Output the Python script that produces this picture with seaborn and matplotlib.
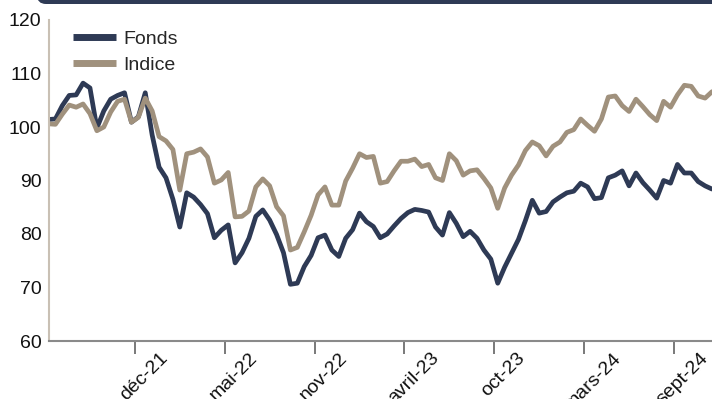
import numpy as np
import pandas as pd
import matplotlib
matplotlib.use("Agg")
import matplotlib.pyplot as plt
import matplotlib.transforms as mtransforms
from matplotlib.patches import FancyBboxPatch
import seaborn as sns

# Fortnightly observations (week number since launch) of both series, base 100
weeks = np.arange(0, 193, 2)

fonds = [
    101.4, 101.5, 104.0, 105.9, 106.0, 108.2, 107.3, 99.8, 103.0, 105.2,
    105.9, 106.4, 100.9, 101.9, 106.4, 98.5, 92.5, 90.5, 86.5, 81.3,
    87.7, 86.9, 85.5, 83.8, 79.3, 80.7, 81.7, 74.6, 76.5, 79.2,
    83.3, 84.5, 82.6, 79.9, 76.5, 70.6, 70.8, 73.9, 76.0, 79.3,
    79.8, 77.0, 75.8, 79.2, 80.8, 83.9, 82.3, 81.4, 79.3, 80.0,
    81.5, 82.9, 84.0, 84.6, 84.4, 84.1, 81.3, 79.8, 84.0, 82.0,
    79.5, 80.5, 79.2, 77.0, 75.3, 70.8, 73.8, 76.4, 79.0, 82.5,
    86.3, 83.9, 84.2, 86.0, 86.9, 87.7, 88.0, 89.5, 88.8, 86.6,
    86.8, 90.5, 91.0, 91.8, 89.0, 91.4, 89.6, 88.2, 86.7, 90.0,
    89.5, 93.0, 91.4, 91.4, 89.8, 89.0, 88.4,
]

indice = [
    100.6, 100.5, 102.4, 104.1, 103.7, 104.3, 102.5, 99.3, 100.0, 102.8,
    104.8, 105.2, 100.9, 101.8, 105.4, 103.0, 98.2, 97.4, 95.8, 88.2,
    95.0, 95.3, 95.9, 94.4, 89.5, 90.1, 91.5, 83.2, 83.3, 84.3,
    88.8, 90.3, 89.0, 85.1, 83.4, 77.0, 77.5, 80.4, 83.5, 87.3,
    88.8, 85.4, 85.4, 89.9, 92.3, 95.0, 94.3, 94.5, 89.5, 89.8,
    91.8, 93.6, 93.6, 94.0, 92.6, 93.0, 90.5, 90.0, 95.0, 93.7,
    91.0, 91.8, 92.0, 90.4, 88.6, 84.8, 88.6, 91.0, 92.9, 95.6,
    97.2, 96.5, 94.6, 96.4, 97.2, 99.0, 99.5, 101.5, 100.3, 99.2,
    101.5, 105.6, 105.8, 104.0, 102.9, 105.2, 103.8, 102.3, 101.2, 104.8,
    103.7, 106.0, 107.8, 107.6, 105.8, 105.4, 106.6,
]

tick_weeks = [25, 51, 77, 103, 129, 155, 181]
tick_labels = ["déc-21", "mai-22", "nov-22", "avril-23", "oct-23", "mars-24", "sept-24"]

series_names = ["Fonds", "Indice"]
colors = {"Fonds": "#2e3a55", "Indice": "#a0917d"}

df = pd.DataFrame({
    "semaine": np.concatenate([weeks, weeks]),
    "valeur": np.concatenate([fonds, indice]),
    "serie": [series_names[0]] * len(weeks) + [series_names[1]] * len(weeks),
})

sns.set_theme(style="white")
plt.rcParams["font.family"] = ["Liberation Sans", "DejaVu Sans"]

FS = 14
W, H, DPI = 712, 399, 100
fig = plt.figure(figsize=(W / DPI, H / DPI), dpi=DPI)
ax = fig.add_axes([48.5 / W, (H - 341) / H, (W - 48.5) / W, 321 / H])

sns.lineplot(data=df, x="semaine", y="valeur", hue="serie", hue_order=series_names,
             palette=colors, linewidth=3.4, ax=ax, legend=True)

ax.set_xlim(0, 192)
ax.set_ylim(60, 120)
ax.set_yticks(np.arange(60, 121, 10))
ax.set_xticks(tick_weeks)
ax.set_xticklabels(tick_labels)
ax.set_xlabel("")
ax.set_ylabel("")

for side in ["top", "right"]:
    ax.spines[side].set_visible(False)
ax.spines["left"].set_color("#c9c0b4")
ax.spines["left"].set_linewidth(1.5)
ax.spines["bottom"].set_color("#8a8a8a")
ax.spines["bottom"].set_linewidth(1.5)

ax.tick_params(axis="y", length=0, pad=5, labelsize=FS, labelcolor="#111111")
ax.tick_params(axis="x", direction="out", length=9, width=1.1, color="#555555",
               pad=1.5, labelsize=FS, labelcolor="#111111", bottom=True)

shift = mtransforms.ScaledTranslation(9 / DPI, 6 / DPI, fig.dpi_scale_trans)
for lab in ax.get_xticklabels():
    lab.set_rotation(45)
    lab.set_ha("center")
    lab.set_va("top")
    lab.set_transform(lab.get_transform() + shift)

leg = ax.legend(loc="upper left", bbox_to_anchor=(0.037, 0.967), frameon=False,
                fontsize=FS, handlelength=2.2, handletextpad=0.4,
                labelspacing=0.4, borderpad=0.0, borderaxespad=0.0)
for line in leg.get_lines():
    line.set_linewidth(5)
    line.set_solid_capstyle("butt")

# Dark header band running along the top edge
band = FancyBboxPatch((37, H - 4), 800, 40,
                      boxstyle="round,pad=0,rounding_size=9",
                      transform=mtransforms.IdentityTransform(),
                      facecolor="#2e3a55", edgecolor="none", clip_on=False)
fig.patches.append(band)

fig.savefig("out.png", dpi=DPI)
